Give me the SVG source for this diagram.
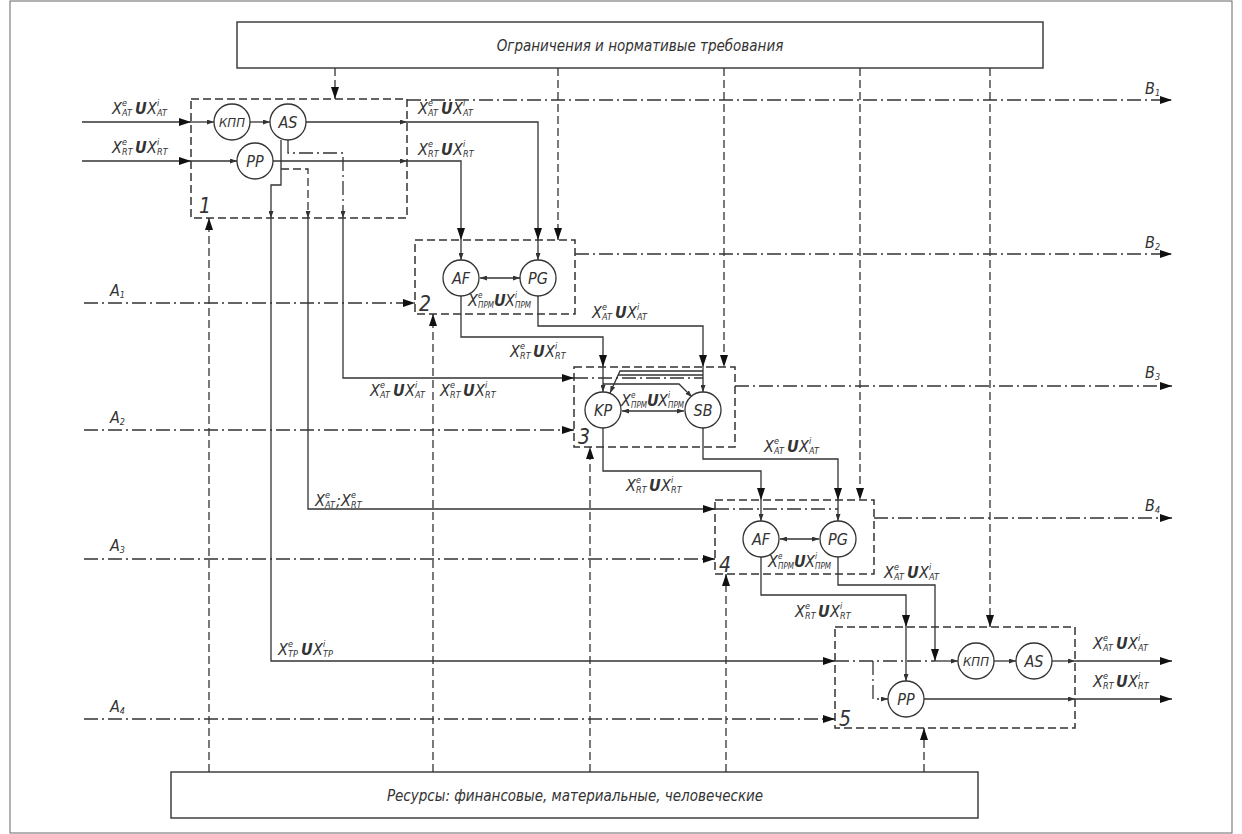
<svg xmlns="http://www.w3.org/2000/svg" width="1242" height="834" viewBox="0 0 1242 834">
<defs>
<style>
.s{fill:none;stroke:#333;stroke-width:1.3}
.d{fill:none;stroke:#333;stroke-width:1.3;stroke-dasharray:8 4}
.dd{fill:none;stroke:#333;stroke-width:1.3;stroke-dasharray:14 4 2 4}
.blk{fill:none;stroke:#333;stroke-width:1.5;stroke-dasharray:8 4}
.box{fill:#fff;stroke:#333;stroke-width:1.4}
.c{fill:#fff;stroke:#333;stroke-width:1.3}
text{font-family:'Liberation Sans Narrow','DejaVu Sans Condensed','Liberation Sans',sans-serif;font-style:italic;fill:#333;font-size:16px}
.sp{font-size:9px}
.sq{font-size:8px}
.u{font-weight:bold}
.cn{font-size:16px;text-anchor:middle}
.num{font-size:21px}
.big{font-size:15px;text-anchor:middle}
</style>
<marker id="a" viewBox="0 0 12 8" refX="12" refY="4" markerWidth="12" markerHeight="8" markerUnits="userSpaceOnUse" orient="auto"><path d="M0,0L12,4L0,8z" fill="#111"/></marker>
<marker id="b" viewBox="0 0 7 5" refX="7" refY="2.5" markerWidth="7" markerHeight="5" markerUnits="userSpaceOnUse" orient="auto-start-reverse"><path d="M0,0L7,2.5L0,5z" fill="#333"/></marker>
</defs>
<rect x="0" y="0" width="1242" height="834" fill="#fff"/>
<rect x="10" y="1" width="1222" height="832" fill="none" stroke="#666" stroke-width="1"/>

<g id="top-box"><rect class="box" x="237" y="22" width="806" height="46"/><text class="big" x="640" y="51">Ограничения и нормативые требования</text></g>
<g id="bottom-box"><rect class="box" x="171" y="772" width="807" height="46"/><text class="big" x="575" y="801">Ресурсы: финансовые, материальные, человеческие</text></g>

<g id="block1"><rect class="blk" x="191" y="99" width="216" height="119"/><text class="num" x="199" y="213">1</text></g>
<g id="block2"><rect class="blk" x="415" y="240" width="160" height="74"/><text class="num" x="419" y="311">2</text></g>
<g id="block3"><rect class="blk" x="574" y="367" width="161" height="80"/><text class="num" x="578" y="444">3</text></g>
<g id="block4"><rect class="blk" x="715" y="500" width="159" height="74"/><text class="num" x="719" y="572">4</text></g>
<g id="block5"><rect class="blk" x="835" y="627" width="240" height="101"/><text class="num" x="839" y="726">5</text></g>

<g id="connectors">
<path class="d" d="M335,68V99" marker-end="url(#a)"/>
<path class="d" d="M558,68V240" marker-end="url(#a)"/>
<path class="d" d="M724,68V367" marker-end="url(#a)"/>
<path class="d" d="M860,68V500" marker-end="url(#a)"/>
<path class="d" d="M990,68V627" marker-end="url(#a)"/>
<path class="d" d="M209,772V218" marker-end="url(#a)"/>
<path class="d" d="M433,772V314" marker-end="url(#a)"/>
<path class="d" d="M590,772V447" marker-end="url(#a)"/>
<path class="d" d="M726,772V574" marker-end="url(#a)"/>
<path class="d" d="M924,772V728" marker-end="url(#a)"/>
<path class="dd" d="M84,303H415" marker-end="url(#a)"/>
<path class="dd" d="M84,430H574" marker-end="url(#a)"/>
<path class="dd" d="M84,559H715" marker-end="url(#a)"/>
<path class="dd" d="M84,719H835" marker-end="url(#a)"/>
<path class="dd" d="M407,100H1172" marker-end="url(#a)"/>
<path class="dd" d="M575,254H1172" marker-end="url(#a)"/>
<path class="dd" d="M735,386H1172" marker-end="url(#a)"/>
<path class="dd" d="M874,518H1172" marker-end="url(#a)"/>
<path class="s" d="M82,122H191" marker-end="url(#a)"/>
<path class="s" d="M191,122H214" marker-end="url(#b)"/>
<path class="s" d="M250,122H270" marker-end="url(#b)"/>
<path class="s" d="M82,161H191" marker-end="url(#a)"/>
<path class="s" d="M191,161H237" marker-end="url(#b)"/>
<path class="s" d="M306,122H407" marker-end="url(#b)"/>
<path class="s" d="M407,122H538V240" marker-end="url(#a)"/>
<path class="s" d="M538,240V260" marker-end="url(#b)"/>
<path class="s" d="M273,161H407" marker-end="url(#b)"/>
<path class="s" d="M407,161H461V240" marker-end="url(#a)"/>
<path class="s" d="M461,240V260" marker-end="url(#b)"/>
<path class="s" d="M281,140V185H271V218" marker-end="url(#b)"/>
<path class="s" d="M271,218V661H835" marker-end="url(#a)"/>
<path class="d" d="M281,169H308V218" marker-end="url(#b)"/>
<path class="s" d="M308,218V509H715" marker-end="url(#a)"/>
<path class="dd" d="M288,140V153H343V218" marker-end="url(#b)"/>
<path class="s" d="M343,218V378H574" marker-end="url(#a)"/>
<path class="s" d="M480,278H520" marker-start="url(#b)" marker-end="url(#b)"/>
<path class="s" d="M461,296V337H603V367" marker-end="url(#a)"/>
<path class="s" d="M603,367V392" marker-end="url(#b)"/>
<path class="s" d="M538,296V326H703V367" marker-end="url(#a)"/>
<path class="s" d="M703,367V392" marker-end="url(#b)"/>
<path class="dd" d="M574,378H703"/>
<path class="s" d="M703,371H620L610,393" marker-end="url(#b)"/>
<path class="s" d="M703,375H618"/>
<path class="s" d="M603,384H679L692,397" marker-end="url(#b)"/>
<path class="s" d="M622,411H684" marker-start="url(#b)" marker-end="url(#b)"/>
<path class="s" d="M603,428V471H761V500" marker-end="url(#a)"/>
<path class="s" d="M761,500V521" marker-end="url(#b)"/>
<path class="s" d="M703,428V459H838V500" marker-end="url(#a)"/>
<path class="s" d="M838,500V521" marker-end="url(#b)"/>
<path class="dd" d="M715,509H838"/>
<path class="s" d="M780,539H819" marker-start="url(#b)" marker-end="url(#b)"/>
<path class="s" d="M761,557V595H906V627" marker-end="url(#a)"/>
<path class="s" d="M906,627V681" marker-end="url(#b)"/>
<path class="s" d="M838,557V585H935V661" marker-end="url(#a)"/>
<path class="dd" d="M835,661H935"/>
<path class="s" d="M935,661H958" marker-end="url(#b)"/>
<path class="s" d="M994,661H1016" marker-end="url(#b)"/>
<path class="dd" d="M873,661V699H888" marker-end="url(#b)"/>
<path class="s" d="M1052,661H1075" marker-end="url(#b)"/>
<path class="s" d="M1075,661H1172" marker-end="url(#a)"/>
<path class="s" d="M924,699H1075" marker-end="url(#b)"/>
<path class="s" d="M1075,699H1172" marker-end="url(#a)"/>
</g>

<g id="kpp1"><circle class="c" cx="232" cy="122" r="18"/><text class="cn" x="232" y="127" style="font-size:13px">КПП</text></g>
<g id="as1"><circle class="c" cx="288" cy="122" r="18"/><text class="cn" x="288" y="128">AS</text></g>
<g id="pp1"><circle class="c" cx="255" cy="161" r="18"/><text class="cn" x="255" y="167">PP</text></g>
<g id="af2"><circle class="c" cx="461" cy="278" r="18"/><text class="cn" x="461" y="284">AF</text></g>
<g id="pg2"><circle class="c" cx="538" cy="278" r="18"/><text class="cn" x="538" y="284">PG</text></g>
<g id="kp3"><circle class="c" cx="603" cy="410" r="18"/><text class="cn" x="603" y="416">KP</text></g>
<g id="sb3"><circle class="c" cx="703" cy="410" r="18"/><text class="cn" x="703" y="416">SB</text></g>
<g id="af4"><circle class="c" cx="761" cy="539" r="18"/><text class="cn" x="761" y="545">AF</text></g>
<g id="pg4"><circle class="c" cx="838" cy="539" r="18"/><text class="cn" x="838" y="545">PG</text></g>
<g id="kpp5"><circle class="c" cx="976" cy="661" r="18"/><text class="cn" x="976" y="666" style="font-size:13px">КПП</text></g>
<g id="as5"><circle class="c" cx="1034" cy="661" r="18"/><text class="cn" x="1034" y="667">AS</text></g>
<g id="pp5"><circle class="c" cx="906" cy="699" r="18"/><text class="cn" x="906" y="705">PP</text></g>

<g id="labels">
<text x="110" y="296">A<tspan class="sp" dy="2">1</tspan></text>
<text x="110" y="423">A<tspan class="sp" dy="2">2</tspan></text>
<text x="110" y="551">A<tspan class="sp" dy="2">3</tspan></text>
<text x="110" y="712">A<tspan class="sp" dy="2">4</tspan></text>
<text x="1145" y="94">B<tspan class="sp" dy="2">1</tspan></text>
<text x="1145" y="248">B<tspan class="sp" dy="2">2</tspan></text>
<text x="1145" y="378">B<tspan class="sp" dy="2">3</tspan></text>
<text x="1145" y="511">B<tspan class="sp" dy="2">4</tspan></text>

<g transform="translate(112,114)"><text>X</text><text class="sp" x="10" y="-8">e</text><text class="sp" x="10" y="2">AT</text><text class="u" x="23" y="0">U</text><text x="35" y="0">X</text><text class="sp" x="45" y="-8">i</text><text class="sp" x="45" y="2">AT</text></g>
<g transform="translate(112,153)"><text>X</text><text class="sp" x="10" y="-8">e</text><text class="sp" x="10" y="2">RT</text><text class="u" x="23" y="0">U</text><text x="35" y="0">X</text><text class="sp" x="45" y="-8">i</text><text class="sp" x="45" y="2">RT</text></g>
<g transform="translate(418,114)"><text>X</text><text class="sp" x="10" y="-8">e</text><text class="sp" x="10" y="2">AT</text><text class="u" x="23" y="0">U</text><text x="35" y="0">X</text><text class="sp" x="45" y="-8">i</text><text class="sp" x="45" y="2">AT</text></g>
<g transform="translate(418,155)"><text>X</text><text class="sp" x="10" y="-8">e</text><text class="sp" x="10" y="2">RT</text><text class="u" x="23" y="0">U</text><text x="35" y="0">X</text><text class="sp" x="45" y="-8">i</text><text class="sp" x="45" y="2">RT</text></g>
<g transform="translate(468,306)"><text>X</text><text class="sq" x="10" y="-8">e</text><text class="sq" x="10" y="2">ПРМ</text><text class="u" x="26" y="0">U</text><text x="37" y="0">X</text><text class="sq" x="47" y="-8">i</text><text class="sq" x="47" y="2">ПРМ</text></g>
<g transform="translate(592,318)"><text>X</text><text class="sp" x="10" y="-8">e</text><text class="sp" x="10" y="2">AT</text><text class="u" x="23" y="0">U</text><text x="35" y="0">X</text><text class="sp" x="45" y="-8">i</text><text class="sp" x="45" y="2">AT</text></g>
<g transform="translate(510,357)"><text>X</text><text class="sp" x="10" y="-8">e</text><text class="sp" x="10" y="2">RT</text><text class="u" x="23" y="0">U</text><text x="35" y="0">X</text><text class="sp" x="45" y="-8">i</text><text class="sp" x="45" y="2">RT</text></g>
<g transform="translate(370,396)"><text>X</text><text class="sp" x="10" y="-8">e</text><text class="sp" x="10" y="2">AT</text><text class="u" x="23" y="0">U</text><text x="35" y="0">X</text><text class="sp" x="45" y="-8">i</text><text class="sp" x="45" y="2">AT</text></g>
<g transform="translate(440,396)"><text>X</text><text class="sp" x="10" y="-8">e</text><text class="sp" x="10" y="2">RT</text><text class="u" x="23" y="0">U</text><text x="35" y="0">X</text><text class="sp" x="45" y="-8">i</text><text class="sp" x="45" y="2">RT</text></g>
<g transform="translate(621,406)"><text>X</text><text class="sq" x="10" y="-8">e</text><text class="sq" x="10" y="2">ПРМ</text><text class="u" x="26" y="0">U</text><text x="37" y="0">X</text><text class="sq" x="47" y="-8">i</text><text class="sq" x="47" y="2">ПРМ</text></g>
<g transform="translate(764,452)"><text>X</text><text class="sp" x="10" y="-8">e</text><text class="sp" x="10" y="2">AT</text><text class="u" x="23" y="0">U</text><text x="35" y="0">X</text><text class="sp" x="45" y="-8">i</text><text class="sp" x="45" y="2">AT</text></g>
<g transform="translate(626,491)"><text>X</text><text class="sp" x="10" y="-8">e</text><text class="sp" x="10" y="2">RT</text><text class="u" x="23" y="0">U</text><text x="35" y="0">X</text><text class="sp" x="45" y="-8">i</text><text class="sp" x="45" y="2">RT</text></g>
<g transform="translate(315,506)"><text>X</text><text class="sp" x="10" y="-8">e</text><text class="sp" x="10" y="2">AT</text><text x="21" y="0">;</text><text x="26" y="0">X</text><text class="sp" x="36" y="-8">e</text><text class="sp" x="36" y="2">RT</text></g>
<g transform="translate(768,567)"><text>X</text><text class="sq" x="10" y="-8">e</text><text class="sq" x="10" y="2">ПРМ</text><text class="u" x="26" y="0">U</text><text x="37" y="0">X</text><text class="sq" x="47" y="-8">i</text><text class="sq" x="47" y="2">ПРМ</text></g>
<g transform="translate(884,578)"><text>X</text><text class="sp" x="10" y="-8">e</text><text class="sp" x="10" y="2">AT</text><text class="u" x="23" y="0">U</text><text x="35" y="0">X</text><text class="sp" x="45" y="-8">i</text><text class="sp" x="45" y="2">AT</text></g>
<g transform="translate(795,617)"><text>X</text><text class="sp" x="10" y="-8">e</text><text class="sp" x="10" y="2">RT</text><text class="u" x="23" y="0">U</text><text x="35" y="0">X</text><text class="sp" x="45" y="-8">i</text><text class="sp" x="45" y="2">RT</text></g>
<g transform="translate(278,655)"><text>X</text><text class="sp" x="10" y="-8">e</text><text class="sp" x="10" y="2">TP</text><text class="u" x="23" y="0">U</text><text x="35" y="0">X</text><text class="sp" x="45" y="-8">i</text><text class="sp" x="45" y="2">TP</text></g>
<g transform="translate(1093,649)"><text>X</text><text class="sp" x="10" y="-8">e</text><text class="sp" x="10" y="2">AT</text><text class="u" x="23" y="0">U</text><text x="35" y="0">X</text><text class="sp" x="45" y="-8">i</text><text class="sp" x="45" y="2">AT</text></g>
<g transform="translate(1093,687)"><text>X</text><text class="sp" x="10" y="-8">e</text><text class="sp" x="10" y="2">RT</text><text class="u" x="23" y="0">U</text><text x="35" y="0">X</text><text class="sp" x="45" y="-8">i</text><text class="sp" x="45" y="2">RT</text></g>
</g>
</svg>
